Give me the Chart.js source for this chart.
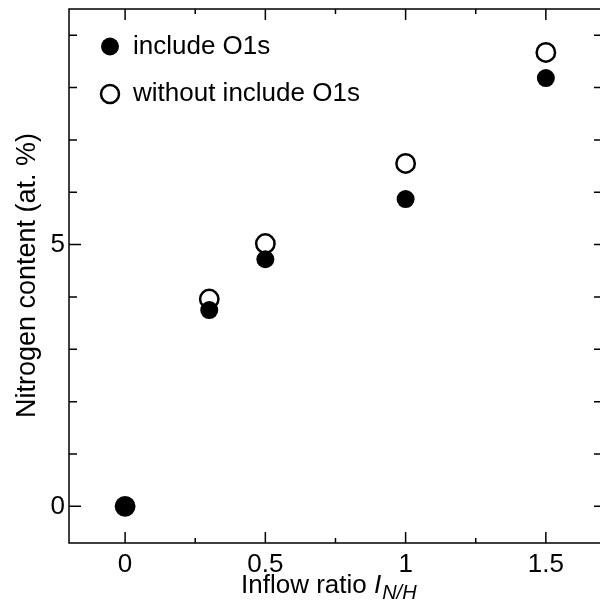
<!DOCTYPE html>
<html lang="en">
<head>
<meta charset="UTF-8">
<title>Nitrogen content</title>
<script src="https://cdn.jsdelivr.net/npm/chart.js"></script>
<style>
  html, body { margin: 0; padding: 0; background: #fff; overflow: hidden; }
  canvas { display: block; }
</style>
</head>
<body>
<canvas id="grafico" width="600" height="602"></canvas>
<script>
  // dados
  const inflowRatio = [0, 0.3, 0.5, 1.0, 1.5];
  const includeO1s = [0, 3.75, 4.72, 5.87, 8.18];
  const withoutO1s = [0, 3.96, 5.02, 6.55, 8.67];

  const xMajor = [0, 0.5, 1, 1.5];
  const xMinor = [0.25, 0.75, 1.25];
  const yMajor = [0, 5];
  const yMinor = [1, 2, 3, 4, 6, 7, 8, 9];

  const legendLabels = ['include O1s', 'without include O1s'];
  const fonte = 'Arial, "Liberation Sans", sans-serif';

  // ticks para dentro, moldura, legenda e titulos
  const moldura = {
    id: 'moldura',
    afterDraw(chart) {
      const ctx = chart.ctx;
      const a = chart.chartArea;
      const sx = chart.scales.x, sy = chart.scales.y;
      ctx.save();
      ctx.strokeStyle = '#000';
      ctx.lineWidth = 1.5;
      ctx.beginPath();
      ctx.moveTo(a.right + 2, a.top);
      ctx.lineTo(a.left, a.top);
      ctx.lineTo(a.left, a.bottom);
      ctx.lineTo(a.right + 2, a.bottom);
      ctx.stroke();

      ctx.beginPath();
      xMajor.forEach(v => {
        const p = sx.getPixelForValue(v);
        ctx.moveTo(p, a.bottom); ctx.lineTo(p, a.bottom - 11);
        ctx.moveTo(p, a.top); ctx.lineTo(p, a.top + 11);
      });
      xMinor.forEach(v => {
        const p = sx.getPixelForValue(v);
        ctx.moveTo(p, a.bottom); ctx.lineTo(p, a.bottom - 5);
        ctx.moveTo(p, a.top); ctx.lineTo(p, a.top + 5);
      });
      yMajor.forEach(v => {
        const p = sy.getPixelForValue(v);
        ctx.moveTo(a.left, p); ctx.lineTo(a.left + 12, p);
        ctx.moveTo(a.right, p); ctx.lineTo(a.right - 6, p);
      });
      yMinor.forEach(v => {
        const p = sy.getPixelForValue(v);
        ctx.moveTo(a.left, p); ctx.lineTo(a.left + 8, p);
        ctx.moveTo(a.right, p); ctx.lineTo(a.right - 6, p);
      });
      ctx.stroke();

      // legenda
      ctx.fillStyle = '#000';
      ctx.beginPath();
      ctx.arc(110, 46.5, 9, 0, Math.PI * 2);
      ctx.fill();
      ctx.lineWidth = 2.5;
      ctx.beginPath();
      ctx.arc(110, 94, 9, 0, Math.PI * 2);
      ctx.stroke();
      ctx.font = '26px ' + fonte;
      ctx.textBaseline = 'middle';
      ctx.textAlign = 'left';
      ctx.fillText(legendLabels[0], 133, 46.5);
      ctx.fillText(legendLabels[1], 133, 94);

      // titulo eixo y
      ctx.save();
      ctx.font = '27px ' + fonte;
      ctx.translate(35, 275.5);
      ctx.rotate(-Math.PI / 2);
      ctx.textAlign = 'center';
      ctx.textBaseline = 'alphabetic';
      ctx.fillText('Nitrogen content (at. %)', 0, 0);
      ctx.restore();

      // titulo eixo x com I_N/H
      ctx.textBaseline = 'alphabetic';
      let x = 241;
      const y = 593;
      ctx.font = '26px ' + fonte;
      const t1 = 'Inflow ratio ';
      ctx.fillText(t1, x, y);
      x += ctx.measureText(t1).width;
      ctx.font = 'italic 26px ' + fonte;
      ctx.fillText('I', x, y);
      x += ctx.measureText('I').width + 1;
      ctx.font = 'italic 20px ' + fonte;
      ctx.fillText('N/H', x, y + 6);
      ctx.restore();
    }
  };

  const config = {
    type: 'scatter',
    data: {
      datasets: [
        {
          label: legendLabels[0],
          data: inflowRatio.map((v, i) => ({ x: v, y: includeO1s[i] })),
          backgroundColor: '#000',
          borderColor: '#000',
          borderWidth: 0,
          pointRadius: 9,
          pointHoverRadius: 9
        },
        {
          label: legendLabels[1],
          data: inflowRatio.map((v, i) => ({ x: v, y: withoutO1s[i] })),
          backgroundColor: 'rgba(0,0,0,0)',
          borderColor: '#000',
          borderWidth: 2.5,
          pointRadius: 9.2,
          pointHoverRadius: 9.2
        }
      ]
    },
    options: {
      responsive: false,
      animation: false,
      layout: { autoPadding: false, padding: { top: 9, right: 0, left: 0, bottom: 0 } },
      plugins: {
        legend: { display: false },
        tooltip: { enabled: false }
      },
      scales: {
        x: {
          type: 'linear',
          min: -0.2,
          max: 1.693,
          grid: { display: false, drawTicks: false },
          border: { display: false },
          afterBuildTicks: s => { s.ticks = xMajor.map(v => ({ value: v })); },
          afterFit: s => { s.height = 59; s.paddingLeft = 0; s.paddingRight = 0; },
          ticks: {
            color: '#000',
            font: { family: fonte, size: 26 },
            padding: 6,
            maxRotation: 0,
            autoSkip: false,
            callback: v => String(v)
          }
        },
        y: {
          type: 'linear',
          min: -0.7,
          max: 9.5,
          grid: { display: false, drawTicks: false },
          border: { display: false },
          afterBuildTicks: s => { s.ticks = yMajor.map(v => ({ value: v })); },
          afterFit: s => { s.width = 69; s.paddingTop = 0; s.paddingBottom = 0; },
          ticks: {
            color: '#000',
            font: { family: fonte, size: 26 },
            padding: 4,
            callback: v => String(v)
          }
        }
      }
    },
    plugins: [moldura]
  };

  new Chart(document.getElementById('grafico'), config);
</script>
</body>
</html>
